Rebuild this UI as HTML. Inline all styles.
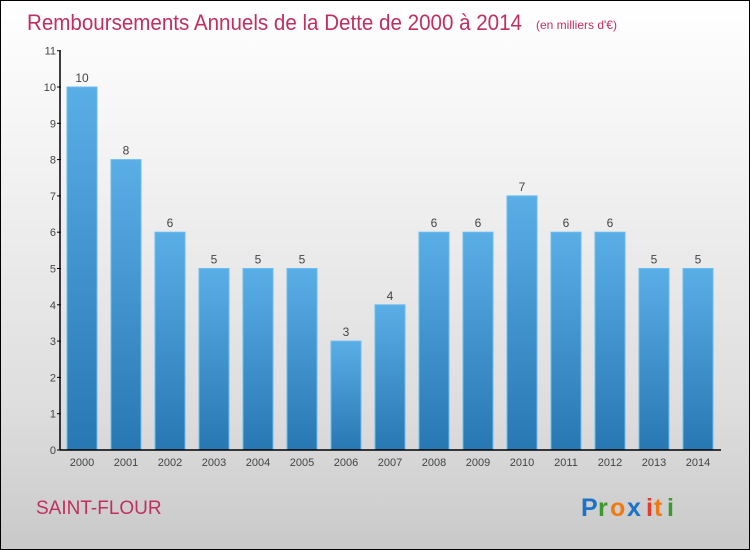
<!DOCTYPE html>
<html><head><meta charset="utf-8"><style>
body{margin:0;width:750px;height:550px;overflow:hidden;font-family:"Liberation Sans",sans-serif}
#frame{position:absolute;left:0;top:0;width:748px;height:548px;border:1px solid #000;background:linear-gradient(#fff,#f2f2f2 30%,#ddd 75%,#c9c9c9)}
</style></head><body>
<div id="frame">
<svg width="750" height="550" style="position:absolute;left:-1px;top:-1px" id="chart">
<defs><linearGradient id="g" x1="0" y1="0" x2="0" y2="1"><stop offset="0" stop-color="#5aaee6"/><stop offset="1" stop-color="#2777b3"/></linearGradient></defs>
<text x="27" y="30" font-size="22" fill="#c0305e" textLength="495" lengthAdjust="spacingAndGlyphs">Remboursements Annuels de la Dette de 2000 à 2014</text>
<text x="536" y="29" font-size="12" fill="#c0305e">(en milliers d'€)</text>
<text x="36" y="514" font-size="19" fill="#c0305e">SAINT-FLOUR</text>
<g font-size="25" font-weight="bold"><text x="581" y="516" fill="#1a73c9">P</text><text x="598" y="516" fill="#3a9a2a">r</text><text x="610" y="516" fill="#f07a10">o</text><text x="627" y="516" fill="#1a73c9">x</text><text x="646" y="516" fill="#e63a2a">i</text><text x="654" y="516" fill="#f07a10">t</text><text x="667" y="516" fill="#3a9a2a">i</text></g>
<g id="bars"></g><g id="axes"></g>
</svg></div>
<script>
const years=["2000","2001","2002","2003","2004","2005","2006","2007","2008","2009","2010","2011","2012","2013","2014"];
const values=[10,8,6,5,5,5,3,4,6,6,7,6,6,5,5];
const yTicks=[0,1,2,3,4,5,6,7,8,9,10,11];
const ns="http://www.w3.org/2000/svg";
const y=v=>450-v*36.3, x=i=>82+i*44;
function mk(t,a,p){const e=document.createElementNS(ns,t);for(const k in a)e.setAttribute(k,a[k]);p.appendChild(e);return e;}
const bars=document.getElementById('bars'),axes=document.getElementById('axes');
values.forEach((v,i)=>{
 const r=mk('rect',{x:x(i)-15,y:y(v),width:30,height:450-y(v),fill:'url(#g)',stroke:'#6bbcf0','stroke-width':1},bars);
 
 
 const t=mk('text',{x:x(i),y:y(v)-5,'font-size':12,fill:'#444','text-anchor':'middle'},bars);t.textContent=v;
 
 
 const l=mk('text',{x:x(i),y:466,'font-size':11,fill:'#444','text-anchor':'middle'},axes);l.textContent=years[i];
 
 
});
yTicks.forEach(v=>{
 mk('line',{x1:57,x2:61,y1:y(v),y2:y(v),stroke:'#000'},axes);
 const t=mk('text',{x:56,y:y(v)+4,'font-size':11,fill:'#444','text-anchor':'end'},axes);t.textContent=v;
 
 
});
const ya=mk('line',{x1:60,x2:60,y1:y(11),y2:450,stroke:'#000','stroke-width':1.5},axes);


const xa=mk('line',{x1:60,x2:721,y1:450,y2:450,stroke:'#000','stroke-width':1.5},axes);


</script>
</body></html>
